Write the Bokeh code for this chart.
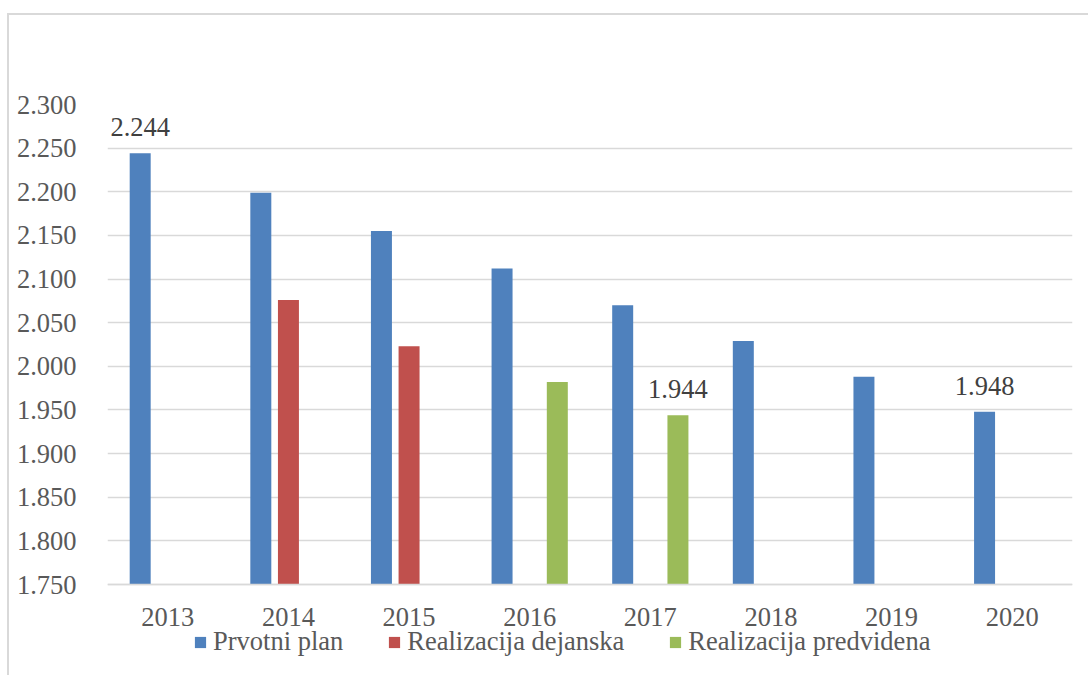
from bokeh.plotting import figure
from bokeh.models import (ColumnDataSource, FactorRange, Range1d, FixedTicker, Legend,
                          LegendItem, CustomJSTickFormatter, InlineStyleSheet)
from bokeh.transform import dodge
from bokeh.embed import file_html
from bokeh.resources import INLINE
from bokeh.core.properties import value

# --- data -------------------------------------------------------------
years = ["2013", "2014", "2015", "2016", "2017", "2018", "2019", "2020"]
prvotni_plan = [2244, 2199, 2155, 2112, 2070, 2029, 1988, 1948]
realizacija_dejanska = [None, 2076, 2023, None, None, None, None, None]
realizacija_predvidena = [None, None, None, 1982, 1944, None, None, None]
y_ticks = list(range(1750, 2301, 50))
# bars that carry a value label
labelled = {
    "Prvotni plan": ["2013", "2020"],
    "Realizacija predvidena": ["2017"],
}

series = [
    ("Prvotni plan", prvotni_plan, "#4F81BD", -0.229),
    ("Realizacija dejanska", realizacija_dejanska, "#C0504D", 0.0),
    ("Realizacija predvidena", realizacija_predvidena, "#9BBB59", 0.229),
]

FONT = "Liberation Serif"
SIZE = "26.5px"
TEXT = "#595959"
GRID = "#D9D9D9"

# the frame runs down to the bottom edge; the value axis spans 480 px,
# the remaining 91 px below the base line hold the category labels and legend
PLOT_H, BELOW_H = 480, 91
y_base = y_ticks[0]
y_low = y_base - BELOW_H * (y_ticks[-1] - y_base) / PLOT_H


def fmt(v):
    return f"{v:,}".replace(",", ".")


p = figure(
    width=1088, height=675,
    x_range=FactorRange(*years, range_padding=0, factor_padding=0),
    y_range=Range1d(y_low, y_ticks[-1]),
    output_backend="svg", toolbar_location=None,
    min_border_left=107, min_border_right=16,
    min_border_top=104, min_border_bottom=0,
)
p.outline_line_color = None
p.background_fill_color = "white"
p.border_fill_color = "white"

legend_items = []
for name, vals, color, off in series:
    xs = [y for y, v in zip(years, vals) if v is not None]
    ys = [v for v in vals if v is not None]
    src = ColumnDataSource(dict(year=xs, value=ys))
    r = p.vbar(x=dodge("year", off, range=p.x_range), top="value",
               bottom=y_base, width=0.174, source=src,
               fill_color=color, line_color=None)
    legend_items.append(LegendItem(label=name, renderers=[r]))

    lx = [y for y, v in zip(xs, ys) if y in labelled.get(name, [])]
    lv = [v for y, v in zip(xs, ys) if y in labelled.get(name, [])]
    if lx:
        lsrc = ColumnDataSource(dict(year=lx, value=lv, label=[fmt(v) for v in lv]))
        p.text(x=dodge("year", off, range=p.x_range), y="value", text="label",
               source=lsrc, text_align="center", text_baseline="alphabetic",
               y_offset=-26, text_font=value(FONT), text_font_size=SIZE,
               text_color="#404040")

# y axis
p.yaxis.ticker = FixedTicker(ticks=y_ticks)
p.yaxis.formatter = CustomJSTickFormatter(code="""
    const t = Math.round(tick);
    return Math.floor(t / 1000) + '.' + String(t % 1000).padStart(3, '0');
""")
p.yaxis.axis_line_color = None
p.yaxis.major_tick_line_color = None
p.yaxis.minor_tick_line_color = None
p.yaxis.major_label_standoff = 25
p.yaxis.major_label_text_font = FONT
p.yaxis.major_label_text_font_size = SIZE
p.yaxis.major_label_text_color = TEXT

p.ygrid.ticker = FixedTicker(ticks=y_ticks)
p.ygrid.grid_line_color = GRID
p.ygrid.grid_line_width = 1.4
p.xgrid.grid_line_color = None

# x axis sits on the base line of the bars
p.xaxis.fixed_location = y_base
p.xaxis.axis_line_color = GRID
p.xaxis.axis_line_width = 1.4
p.xaxis.major_tick_line_color = None
p.xaxis.minor_tick_line_color = None
p.xaxis.major_label_standoff = 17
p.xaxis.major_label_text_font = FONT
p.xaxis.major_label_text_font_size = SIZE
p.xaxis.major_label_text_color = TEXT

legend = Legend(items=legend_items, orientation="horizontal", location=(86, 18))
legend.border_line_color = None
legend.background_fill_alpha = 0
legend.padding = 0
legend.margin = 0
legend.spacing = 44
legend.glyph_width = 14
legend.glyph_height = 14
legend.label_standoff = 6
legend.label_height = 28
legend.label_text_font = FONT
legend.label_text_font_size = SIZE
legend.label_text_color = TEXT
p.add_layout(legend, "center")

# light frame around the chart area (top and left edges)
p.stylesheets = [InlineStyleSheet(css="""
:host { position: relative; }
:host::after {
  content: "";
  position: absolute;
  left: 7px; top: 13px; right: 0; bottom: 0;
  border-top: 2px solid #D9D9D9;
  border-left: 2px solid #D9D9D9;
  pointer-events: none;
  z-index: 5;
}
""")]

open("out.html", "w").write(file_html(p, INLINE))
